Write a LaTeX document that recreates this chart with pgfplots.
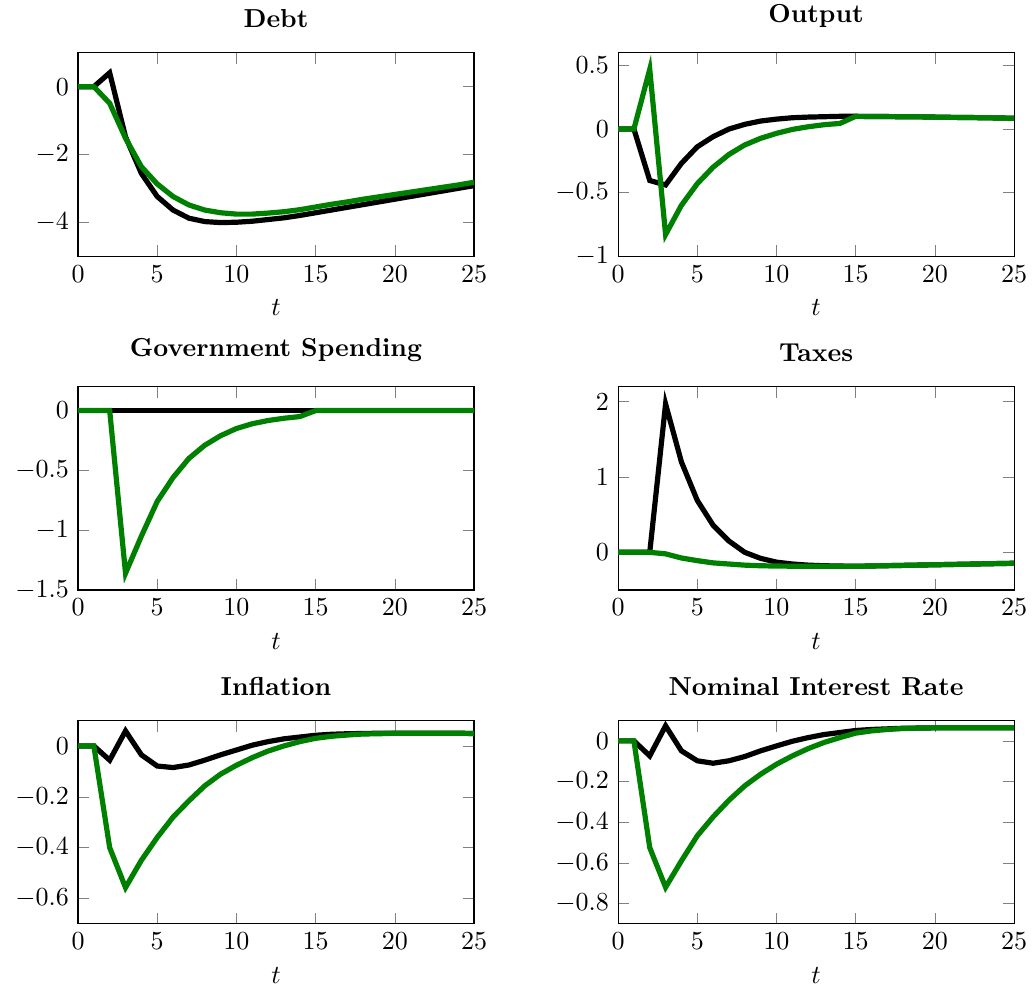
\documentclass[border=0pt]{standalone}
\usepackage{pgfplots}
\pgfplotsset{compat=1.18}
\usepgfplotslibrary{groupplots}
\usetikzlibrary{calc}
\definecolor{irfgreen}{RGB}{0,128,0}

\begin{document}
\begin{tikzpicture}
\begin{groupplot}[
    group style={group size=2 by 3, horizontal sep=55.4pt, vertical sep=50.2pt},
    scale only axis,
    width=152.3pt, height=78.2pt,
    xmin=0, xmax=25,
    xtick={0,5,10,15,20,25},
    xlabel={$t$},
    title style={font=\bfseries},
    every axis plot/.append style={line width=2pt, no markers},
]
% Debt
\nextgroupplot[title={Debt}, ymin=-5, ymax=1, ytick={-4,-2,0}]
\addplot[black] coordinates {(0,0) (1,0) (2,0.41) (3,-1.48) (4,-2.56) (5,-3.24) (6,-3.64) (7,-3.88) (8,-3.98) (9,-4.01) (10,-4.0) (11,-3.97) (12,-3.92) (13,-3.87) (14,-3.8) (15,-3.72) (16,-3.64) (17,-3.56) (18,-3.48) (19,-3.40) (20,-3.32) (21,-3.24) (22,-3.16) (23,-3.08) (24,-3.0) (25,-2.92)};
\addplot[irfgreen] coordinates {(0,0) (1,0) (2,-0.49) (3,-1.52) (4,-2.36) (5,-2.87) (6,-3.24) (7,-3.49) (8,-3.64) (9,-3.72) (10,-3.76) (11,-3.76) (12,-3.73) (13,-3.69) (14,-3.63) (15,-3.55) (16,-3.47) (17,-3.40) (18,-3.32) (19,-3.25) (20,-3.18) (21,-3.11) (22,-3.04) (23,-2.97) (24,-2.90) (25,-2.82)};
% Output
\nextgroupplot[title={Output}, ymin=-1, ymax=0.6, ytick={-1,-0.5,0,0.5}]
\addplot[black] coordinates {(0,0) (1,0) (2,-0.405) (3,-0.44) (4,-0.27) (5,-0.14) (6,-0.06) (7,0.0) (8,0.037) (9,0.063) (10,0.078) (11,0.089) (12,0.094) (13,0.097) (14,0.1) (15,0.1) (16,0.099) (17,0.098) (18,0.097) (19,0.096) (20,0.094) (21,0.092) (22,0.091) (23,0.089) (24,0.087) (25,0.085)};
\addplot[irfgreen] coordinates {(0,0) (1,0) (2,0.47) (3,-0.83) (4,-0.6) (5,-0.43) (6,-0.3) (7,-0.2) (8,-0.125) (9,-0.073) (10,-0.034) (11,-0.003) (12,0.018) (13,0.034) (14,0.044) (15,0.1) (16,0.099) (17,0.098) (18,0.097) (19,0.096) (20,0.094) (21,0.092) (22,0.091) (23,0.089) (24,0.087) (25,0.085)};
% Government Spending
\nextgroupplot[title={Government Spending}, ymin=-1.5, ymax=0.2, ytick={-1.5,-1,-0.5,0}]
\addplot[black] coordinates {(0,0) (1,0) (2,0) (3,0) (4,0) (5,0) (6,0) (7,0) (8,0) (9,0) (10,0) (11,0) (12,0) (13,0) (14,0) (15,0) (16,0) (17,0) (18,0) (19,0) (20,0) (21,0) (22,0) (23,0) (24,0) (25,0)};
\addplot[irfgreen] coordinates {(0,0) (1,0) (2,0) (3,-1.36) (4,-1.05) (5,-0.76) (6,-0.56) (7,-0.40) (8,-0.29) (9,-0.21) (10,-0.15) (11,-0.11) (12,-0.083) (13,-0.064) (14,-0.05) (15,0) (16,0) (17,0) (18,0) (19,0) (20,0) (21,0) (22,0) (23,0) (24,0) (25,0)};
% Taxes
\nextgroupplot[title={Taxes}, ymin=-0.5, ymax=2.2, ytick={0,1,2}]
\addplot[black] coordinates {(0,0) (1,0) (2,0) (3,1.97) (4,1.2) (5,0.69) (6,0.36) (7,0.15) (8,0.0) (9,-0.08) (10,-0.13) (11,-0.155) (12,-0.17) (13,-0.178) (14,-0.182) (15,-0.185) (16,-0.181) (17,-0.177) (18,-0.173) (19,-0.169) (20,-0.165) (21,-0.161) (22,-0.157) (23,-0.153) (24,-0.149) (25,-0.145)};
\addplot[irfgreen] coordinates {(0,0) (1,0) (2,0) (3,-0.02) (4,-0.075) (5,-0.11) (6,-0.14) (7,-0.155) (8,-0.17) (9,-0.178) (10,-0.182) (11,-0.184) (12,-0.185) (13,-0.185) (14,-0.185) (15,-0.185) (16,-0.181) (17,-0.177) (18,-0.173) (19,-0.169) (20,-0.165) (21,-0.161) (22,-0.157) (23,-0.153) (24,-0.149) (25,-0.145)};
% Inflation
\nextgroupplot[title={Inflation}, ymin=-0.7, ymax=0.1, ytick={-0.6,-0.4,-0.2,0}]
\addplot[black] coordinates {(0,0) (1,0) (2,-0.056) (3,0.059) (4,-0.035) (5,-0.079) (6,-0.085) (7,-0.075) (8,-0.056) (9,-0.035) (10,-0.016) (11,0.003) (12,0.017) (13,0.028) (14,0.035) (15,0.042) (16,0.046) (17,0.048) (18,0.049) (19,0.05) (20,0.05) (21,0.05) (22,0.05) (23,0.05) (24,0.05) (25,0.049)};
\addplot[irfgreen] coordinates {(0,0) (1,0) (2,-0.40) (3,-0.557) (4,-0.45) (5,-0.36) (6,-0.28) (7,-0.216) (8,-0.157) (9,-0.111) (10,-0.076) (11,-0.046) (12,-0.02) (13,0.0) (14,0.017) (15,0.030) (16,0.038) (17,0.043) (18,0.047) (19,0.048) (20,0.05) (21,0.05) (22,0.05) (23,0.05) (24,0.05) (25,0.049)};
% Nominal Interest Rate
\nextgroupplot[title={Nominal Interest Rate}, ymin=-0.9, ymax=0.1, ytick={-0.8,-0.6,-0.4,-0.2,0}]
\addplot[black] coordinates {(0,0) (1,0) (2,-0.074) (3,0.074) (4,-0.049) (5,-0.098) (6,-0.11) (7,-0.098) (8,-0.077) (9,-0.049) (10,-0.025) (11,-0.002) (12,0.016) (13,0.031) (14,0.041) (15,0.051) (16,0.056) (17,0.059) (18,0.062) (19,0.063) (20,0.064) (21,0.064) (22,0.064) (23,0.064) (24,0.064) (25,0.064)};
\addplot[irfgreen] coordinates {(0,0) (1,0) (2,-0.525) (3,-0.72) (4,-0.59) (5,-0.467) (6,-0.374) (7,-0.292) (8,-0.221) (9,-0.164) (10,-0.115) (11,-0.074) (12,-0.038) (13,-0.008) (14,0.016) (15,0.038) (16,0.049) (17,0.056) (18,0.061) (19,0.063) (20,0.064) (21,0.064) (22,0.064) (23,0.064) (24,0.064) (25,0.064)};
\end{groupplot}
\pgfresetboundingbox
\path[use as bounding box] ($(group c1r1.north west)+(-30pt,20.3pt)$) rectangle ($(group c2r3.south east)+(6.9pt,-28.2pt)$);
\end{tikzpicture}
\end{document}
